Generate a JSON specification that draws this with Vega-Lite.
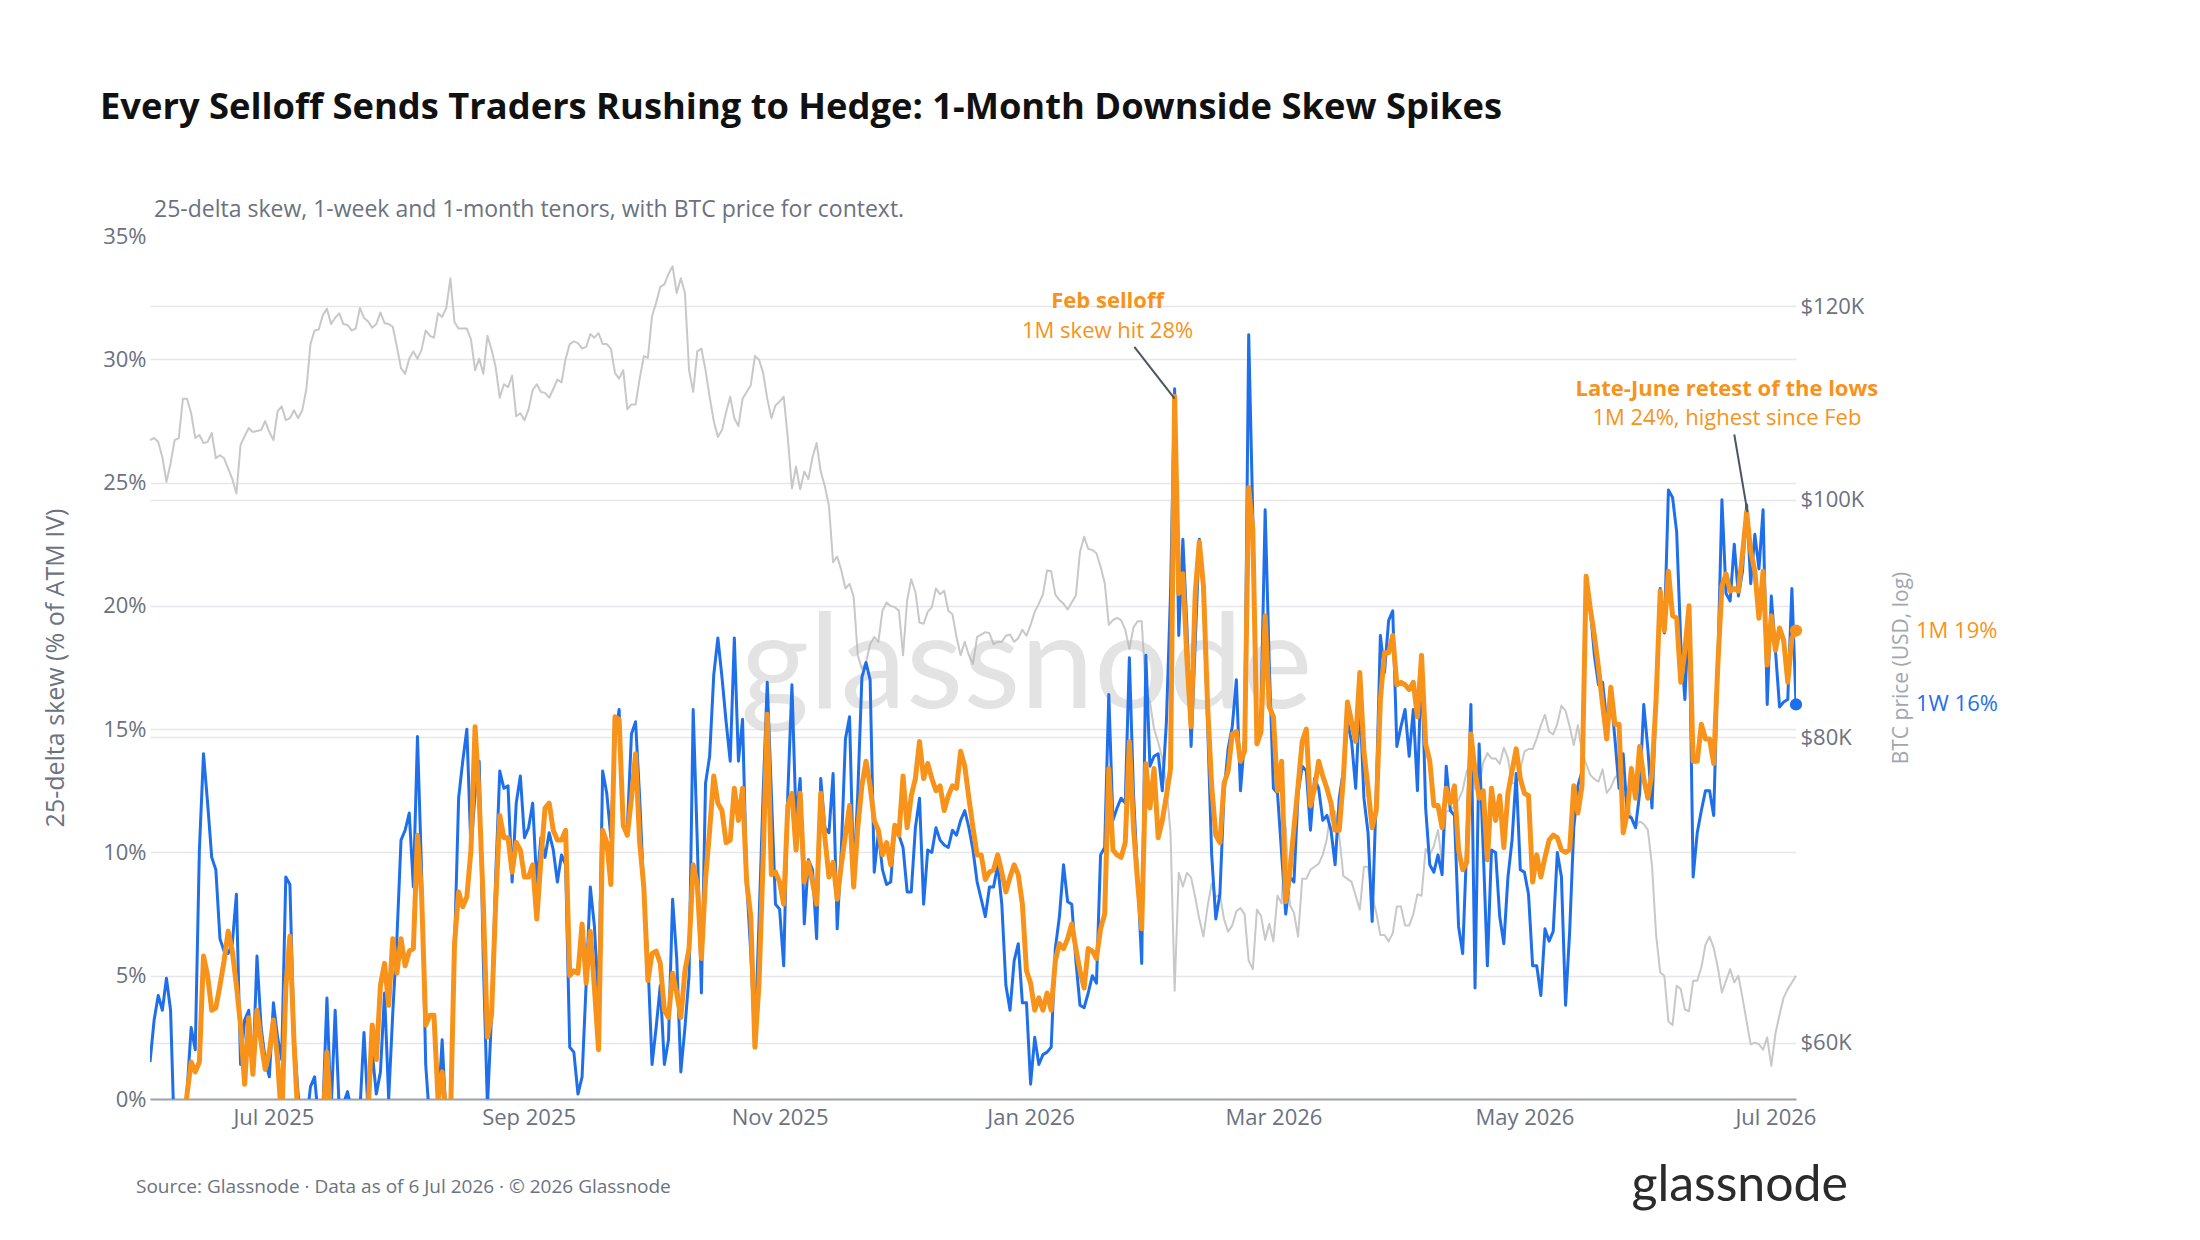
{
  "$schema": "https://vega.github.io/schema/vega-lite/v6.json",
  "width": 1646,
  "height": 863,
  "autosize": {"type": "none"},
  "padding": {"left": 150, "top": 236, "right": 404, "bottom": 141},
  "background": "white",
  "config": {
    "font": "Open Sans",
    "view": {"stroke": null},
    "axis": {"labelFont": "Open Sans", "titleFont": "Open Sans"},
    "text": {"font": "Open Sans"}
  },
  "title": {
    "text": "Every Selloff Sends Traders Rushing to Hedge: 1-Month Downside Skew Spikes",
    "anchor": "start",
    "frame": "group",
    "dx": -50,
    "offset": 73,
    "font": "Open Sans",
    "fontSize": 36.3,
    "fontWeight": "bold",
    "color": "#111111"
  },
  "datasets": {
    "w": [
      {"d":"2025-06-01","v":1.5},{"d":"2025-06-02","v":3.2},{"d":"2025-06-03","v":4.2},{"d":"2025-06-04","v":3.6},{"d":"2025-06-05","v":4.9},{"d":"2025-06-06","v":3.6},{"d":"2025-06-07","v":-2},{"d":"2025-06-08","v":-3},{"d":"2025-06-09","v":-1},{"d":"2025-06-10","v":0.3},
      {"d":"2025-06-11","v":2.9},{"d":"2025-06-12","v":2.0},{"d":"2025-06-13","v":10.1},{"d":"2025-06-14","v":14.0},{"d":"2025-06-15","v":12.0},{"d":"2025-06-16","v":9.8},{"d":"2025-06-17","v":9.3},{"d":"2025-06-18","v":6.5},{"d":"2025-06-19","v":6.0},{"d":"2025-06-20","v":5.9},
      {"d":"2025-06-21","v":6.3},{"d":"2025-06-22","v":8.3},{"d":"2025-06-23","v":1.4},{"d":"2025-06-24","v":3.2},{"d":"2025-06-25","v":3.6},{"d":"2025-06-26","v":1.1},{"d":"2025-06-27","v":5.8},{"d":"2025-06-28","v":2.9},{"d":"2025-06-29","v":1.6},{"d":"2025-06-30","v":0.9},
      {"d":"2025-07-01","v":3.9},{"d":"2025-07-02","v":2.5},{"d":"2025-07-03","v":1.6},{"d":"2025-07-04","v":9.0},{"d":"2025-07-05","v":8.7},{"d":"2025-07-06","v":2.5},{"d":"2025-07-07","v":0.2},{"d":"2025-07-08","v":-1.5},{"d":"2025-07-09","v":-1},{"d":"2025-07-10","v":0.5},
      {"d":"2025-07-11","v":0.9},{"d":"2025-07-12","v":-1},{"d":"2025-07-13","v":-0.5},{"d":"2025-07-14","v":4.1},{"d":"2025-07-15","v":-0.5},{"d":"2025-07-16","v":3.6},{"d":"2025-07-17","v":-0.5},{"d":"2025-07-18","v":-0.2},{"d":"2025-07-19","v":0.3},{"d":"2025-07-20","v":-0.5},
      {"d":"2025-07-21","v":-1},{"d":"2025-07-22","v":-0.5},{"d":"2025-07-23","v":2.7},{"d":"2025-07-24","v":-0.5},{"d":"2025-07-25","v":1.9},{"d":"2025-07-26","v":0.2},{"d":"2025-07-27","v":1.1},{"d":"2025-07-28","v":4.3},{"d":"2025-07-29","v":0},{"d":"2025-07-30","v":3.5},
      {"d":"2025-07-31","v":6.5},{"d":"2025-08-01","v":10.5},{"d":"2025-08-02","v":10.9},{"d":"2025-08-03","v":11.6},{"d":"2025-08-04","v":8.6},{"d":"2025-08-05","v":14.7},{"d":"2025-08-06","v":9.2},{"d":"2025-08-07","v":1.4},{"d":"2025-08-08","v":-1},{"d":"2025-08-09","v":-1},
      {"d":"2025-08-10","v":-0.5},{"d":"2025-08-11","v":2.4},{"d":"2025-08-12","v":-1},{"d":"2025-08-13","v":-0.5},{"d":"2025-08-14","v":6.1},{"d":"2025-08-15","v":12.2},{"d":"2025-08-16","v":13.7},{"d":"2025-08-17","v":15.0},{"d":"2025-08-18","v":10.1},{"d":"2025-08-19","v":12.4},
      {"d":"2025-08-20","v":13.7},{"d":"2025-08-21","v":5.6},{"d":"2025-08-22","v":-0.3},{"d":"2025-08-23","v":3.4},{"d":"2025-08-24","v":9.0},{"d":"2025-08-25","v":13.3},{"d":"2025-08-26","v":12.6},{"d":"2025-08-27","v":12.7},{"d":"2025-08-28","v":8.8},{"d":"2025-08-29","v":12.0},
      {"d":"2025-08-30","v":13.1},{"d":"2025-08-31","v":10.6},{"d":"2025-09-01","v":11.0},{"d":"2025-09-02","v":12.0},{"d":"2025-09-03","v":8.7},{"d":"2025-09-04","v":10.6},{"d":"2025-09-05","v":9.8},{"d":"2025-09-06","v":10.8},{"d":"2025-09-07","v":10.1},{"d":"2025-09-08","v":8.8},
      {"d":"2025-09-09","v":9.9},{"d":"2025-09-10","v":9.5},{"d":"2025-09-11","v":2.1},{"d":"2025-09-12","v":1.9},{"d":"2025-09-13","v":0.2},{"d":"2025-09-14","v":0.9},{"d":"2025-09-15","v":4.7},{"d":"2025-09-16","v":8.6},{"d":"2025-09-17","v":7.0},{"d":"2025-09-18","v":3.8},
      {"d":"2025-09-19","v":13.3},{"d":"2025-09-20","v":12.4},{"d":"2025-09-21","v":10.6},{"d":"2025-09-22","v":14.6},{"d":"2025-09-23","v":15.8},{"d":"2025-09-24","v":11.0},{"d":"2025-09-25","v":11.0},{"d":"2025-09-26","v":14.8},{"d":"2025-09-27","v":15.3},{"d":"2025-09-28","v":12.2},
      {"d":"2025-09-29","v":8.4},{"d":"2025-09-30","v":5.6},{"d":"2025-10-01","v":1.4},{"d":"2025-10-02","v":2.9},{"d":"2025-10-03","v":4.6},{"d":"2025-10-04","v":1.4},{"d":"2025-10-05","v":2.4},{"d":"2025-10-06","v":8.1},{"d":"2025-10-07","v":5.7},{"d":"2025-10-08","v":1.1},
      {"d":"2025-10-09","v":2.9},{"d":"2025-10-10","v":5.0},{"d":"2025-10-11","v":15.8},{"d":"2025-10-12","v":10.4},{"d":"2025-10-13","v":4.3},{"d":"2025-10-14","v":12.8},{"d":"2025-10-15","v":13.9},{"d":"2025-10-16","v":17.2},{"d":"2025-10-17","v":18.7},{"d":"2025-10-18","v":17.1},
      {"d":"2025-10-19","v":15.3},{"d":"2025-10-20","v":13.7},{"d":"2025-10-21","v":18.7},{"d":"2025-10-22","v":13.7},{"d":"2025-10-23","v":15.4},{"d":"2025-10-24","v":8.8},{"d":"2025-10-25","v":5.9},{"d":"2025-10-26","v":2.3},{"d":"2025-10-27","v":7.2},{"d":"2025-10-28","v":12.4},
      {"d":"2025-10-29","v":16.9},{"d":"2025-10-30","v":12.4},{"d":"2025-10-31","v":7.9},{"d":"2025-11-01","v":7.7},{"d":"2025-11-02","v":5.4},{"d":"2025-11-03","v":12.4},{"d":"2025-11-04","v":16.8},{"d":"2025-11-05","v":11.3},{"d":"2025-11-06","v":13.0},{"d":"2025-11-07","v":7.1},
      {"d":"2025-11-08","v":9.7},{"d":"2025-11-09","v":9.3},{"d":"2025-11-10","v":6.5},{"d":"2025-11-11","v":13.0},{"d":"2025-11-12","v":11.0},{"d":"2025-11-13","v":10.8},{"d":"2025-11-14","v":13.2},{"d":"2025-11-15","v":6.9},{"d":"2025-11-16","v":10.1},{"d":"2025-11-17","v":14.6},
      {"d":"2025-11-18","v":15.5},{"d":"2025-11-19","v":8.9},{"d":"2025-11-20","v":12.4},{"d":"2025-11-21","v":17.1},{"d":"2025-11-22","v":17.7},{"d":"2025-11-23","v":17.0},{"d":"2025-11-24","v":9.2},{"d":"2025-11-25","v":10.8},{"d":"2025-11-26","v":9.3},{"d":"2025-11-27","v":8.7},
      {"d":"2025-11-28","v":8.8},{"d":"2025-11-29","v":11.0},{"d":"2025-11-30","v":10.7},{"d":"2025-12-01","v":10.2},{"d":"2025-12-02","v":8.4},{"d":"2025-12-03","v":8.4},{"d":"2025-12-04","v":11.0},{"d":"2025-12-05","v":12.2},{"d":"2025-12-06","v":7.9},{"d":"2025-12-07","v":10.1},
      {"d":"2025-12-08","v":10.0},{"d":"2025-12-09","v":11.0},{"d":"2025-12-10","v":10.5},{"d":"2025-12-11","v":10.3},{"d":"2025-12-12","v":10.2},{"d":"2025-12-13","v":10.9},{"d":"2025-12-14","v":10.7},{"d":"2025-12-15","v":11.3},{"d":"2025-12-16","v":11.7},{"d":"2025-12-17","v":11.0},
      {"d":"2025-12-18","v":10.1},{"d":"2025-12-19","v":8.8},{"d":"2025-12-20","v":8.1},{"d":"2025-12-21","v":7.4},{"d":"2025-12-22","v":8.6},{"d":"2025-12-23","v":8.6},{"d":"2025-12-24","v":9.5},{"d":"2025-12-25","v":7.9},{"d":"2025-12-26","v":4.6},{"d":"2025-12-27","v":3.6},
      {"d":"2025-12-28","v":5.6},{"d":"2025-12-29","v":6.3},{"d":"2025-12-30","v":3.9},{"d":"2025-12-31","v":3.9},{"d":"2026-01-01","v":0.6},{"d":"2026-01-02","v":2.5},{"d":"2026-01-03","v":1.4},{"d":"2026-01-04","v":1.8},{"d":"2026-01-05","v":1.9},{"d":"2026-01-06","v":2.1},
      {"d":"2026-01-07","v":6.1},{"d":"2026-01-08","v":7.4},{"d":"2026-01-09","v":9.5},{"d":"2026-01-10","v":8.0},{"d":"2026-01-11","v":7.9},{"d":"2026-01-12","v":5.6},{"d":"2026-01-13","v":3.8},{"d":"2026-01-14","v":3.7},{"d":"2026-01-15","v":4.3},{"d":"2026-01-16","v":5.0},
      {"d":"2026-01-17","v":4.7},{"d":"2026-01-18","v":9.9},{"d":"2026-01-19","v":10.2},{"d":"2026-01-20","v":16.4},{"d":"2026-01-21","v":11.3},{"d":"2026-01-22","v":11.8},{"d":"2026-01-23","v":12.2},{"d":"2026-01-24","v":12.0},{"d":"2026-01-25","v":17.9},{"d":"2026-01-26","v":12.4},
      {"d":"2026-01-27","v":9.0},{"d":"2026-01-28","v":5.5},{"d":"2026-01-29","v":18.0},{"d":"2026-01-30","v":13.5},{"d":"2026-01-31","v":13.9},{"d":"2026-02-01","v":14.0},{"d":"2026-02-02","v":12.5},{"d":"2026-02-03","v":15.3},{"d":"2026-02-04","v":20.5},{"d":"2026-02-05","v":28.8},
      {"d":"2026-02-06","v":18.8},{"d":"2026-02-07","v":22.7},{"d":"2026-02-08","v":19.1},{"d":"2026-02-09","v":14.3},{"d":"2026-02-10","v":18.5},{"d":"2026-02-11","v":22.7},{"d":"2026-02-12","v":20.5},{"d":"2026-02-13","v":15.3},{"d":"2026-02-14","v":9.9},{"d":"2026-02-15","v":7.3},
      {"d":"2026-02-16","v":8.3},{"d":"2026-02-17","v":12.4},{"d":"2026-02-18","v":14.2},{"d":"2026-02-19","v":15.1},{"d":"2026-02-20","v":17.0},{"d":"2026-02-21","v":12.5},{"d":"2026-02-22","v":14.6},{"d":"2026-02-23","v":31.0},{"d":"2026-02-24","v":23.6},{"d":"2026-02-25","v":14.6},
      {"d":"2026-02-26","v":15.8},{"d":"2026-02-27","v":23.9},{"d":"2026-02-28","v":17.6},{"d":"2026-03-01","v":12.6},{"d":"2026-03-02","v":12.4},{"d":"2026-03-04","v":7.5},{"d":"2026-03-05","v":9.0},{"d":"2026-03-06","v":8.8},{"d":"2026-03-07","v":12.4},{"d":"2026-03-08","v":13.5},
      {"d":"2026-03-09","v":13.3},{"d":"2026-03-10","v":10.9},{"d":"2026-03-11","v":13.0},{"d":"2026-03-12","v":12.6},{"d":"2026-03-13","v":11.3},{"d":"2026-03-14","v":11.5},{"d":"2026-03-15","v":10.9},{"d":"2026-03-16","v":9.5},{"d":"2026-03-17","v":12.2},{"d":"2026-03-18","v":13.3},
      {"d":"2026-03-19","v":15.3},{"d":"2026-03-20","v":14.5},{"d":"2026-03-21","v":12.6},{"d":"2026-03-22","v":16.2},{"d":"2026-03-23","v":12.2},{"d":"2026-03-24","v":10.8},{"d":"2026-03-25","v":7.2},{"d":"2026-03-26","v":12.4},{"d":"2026-03-27","v":18.8},{"d":"2026-03-28","v":17.3},
      {"d":"2026-03-29","v":19.4},{"d":"2026-03-30","v":19.8},{"d":"2026-03-31","v":14.3},{"d":"2026-04-01","v":15.1},{"d":"2026-04-02","v":15.8},{"d":"2026-04-03","v":13.9},{"d":"2026-04-04","v":15.8},{"d":"2026-04-05","v":12.5},{"d":"2026-04-06","v":17.8},{"d":"2026-04-07","v":11.8},
      {"d":"2026-04-08","v":9.5},{"d":"2026-04-09","v":9.2},{"d":"2026-04-10","v":9.9},{"d":"2026-04-11","v":9.1},{"d":"2026-04-12","v":13.5},{"d":"2026-04-13","v":11.7},{"d":"2026-04-14","v":11.5},{"d":"2026-04-15","v":7.0},{"d":"2026-04-16","v":5.9},{"d":"2026-04-17","v":10.4},
      {"d":"2026-04-18","v":16.0},{"d":"2026-04-19","v":4.5},{"d":"2026-04-20","v":14.4},{"d":"2026-04-21","v":10.1},{"d":"2026-04-22","v":5.4},{"d":"2026-04-23","v":10.1},{"d":"2026-04-24","v":10.0},{"d":"2026-04-25","v":7.4},{"d":"2026-04-26","v":6.3},{"d":"2026-04-27","v":9.0},
      {"d":"2026-04-28","v":10.5},{"d":"2026-04-29","v":13.2},{"d":"2026-04-30","v":9.3},{"d":"2026-05-01","v":9.2},{"d":"2026-05-02","v":8.3},{"d":"2026-05-03","v":5.4},{"d":"2026-05-04","v":5.4},{"d":"2026-05-05","v":4.2},{"d":"2026-05-06","v":6.9},{"d":"2026-05-07","v":6.4},
      {"d":"2026-05-08","v":6.8},{"d":"2026-05-09","v":10.0},{"d":"2026-05-10","v":9.0},{"d":"2026-05-11","v":3.8},{"d":"2026-05-12","v":6.8},{"d":"2026-05-13","v":11.0},{"d":"2026-05-14","v":12.7},{"d":"2026-05-15","v":13.3},{"d":"2026-05-16","v":20.9},{"d":"2026-05-17","v":19.9},
      {"d":"2026-05-18","v":18.0},{"d":"2026-05-19","v":16.8},{"d":"2026-05-20","v":16.9},{"d":"2026-05-21","v":15.3},{"d":"2026-05-22","v":16.4},{"d":"2026-05-23","v":14.6},{"d":"2026-05-24","v":12.6},{"d":"2026-05-25","v":14.0},{"d":"2026-05-26","v":11.5},{"d":"2026-05-27","v":11.4},
      {"d":"2026-05-28","v":11.0},{"d":"2026-05-29","v":12.4},{"d":"2026-05-30","v":16.0},{"d":"2026-05-31","v":14.2},{"d":"2026-06-01","v":11.8},{"d":"2026-06-02","v":16.2},{"d":"2026-06-03","v":20.7},{"d":"2026-06-04","v":18.9},{"d":"2026-06-05","v":24.7},{"d":"2026-06-06","v":24.4},
      {"d":"2026-06-07","v":23.0},{"d":"2026-06-08","v":18.5},{"d":"2026-06-09","v":16.2},{"d":"2026-06-10","v":20.0},{"d":"2026-06-11","v":9.0},{"d":"2026-06-12","v":10.8},{"d":"2026-06-13","v":11.7},{"d":"2026-06-14","v":12.5},{"d":"2026-06-15","v":12.5},{"d":"2026-06-16","v":11.5},
      {"d":"2026-06-17","v":17.6},{"d":"2026-06-18","v":24.3},{"d":"2026-06-19","v":20.5},{"d":"2026-06-20","v":20.2},{"d":"2026-06-21","v":22.5},{"d":"2026-06-22","v":20.4},{"d":"2026-06-23","v":21.4},{"d":"2026-06-24","v":24.1},{"d":"2026-06-25","v":20.9},{"d":"2026-06-26","v":22.9},
      {"d":"2026-06-27","v":21.5},{"d":"2026-06-28","v":23.9},{"d":"2026-06-29","v":16.0},{"d":"2026-06-30","v":20.4},{"d":"2026-07-01","v":18.2},{"d":"2026-07-02","v":15.9},{"d":"2026-07-03","v":16.1},{"d":"2026-07-04","v":16.2},{"d":"2026-07-05","v":20.7},{"d":"2026-07-06","v":16.0}
    ],
    "m": [
      {"d":"2025-06-01","v":-3},{"d":"2025-06-09","v":-2},{"d":"2025-06-10","v":0.2},{"d":"2025-06-11","v":1.5},{"d":"2025-06-12","v":1.1},{"d":"2025-06-13","v":1.5},{"d":"2025-06-14","v":5.8},{"d":"2025-06-15","v":5.0},{"d":"2025-06-16","v":3.6},{"d":"2025-06-17","v":3.7},
      {"d":"2025-06-18","v":4.6},{"d":"2025-06-19","v":5.6},{"d":"2025-06-20","v":6.8},{"d":"2025-06-21","v":6.0},{"d":"2025-06-22","v":4.6},{"d":"2025-06-23","v":3.0},{"d":"2025-06-24","v":0.6},{"d":"2025-06-25","v":3.3},{"d":"2025-06-26","v":1.0},{"d":"2025-06-27","v":3.6},
      {"d":"2025-06-28","v":2.3},{"d":"2025-06-29","v":1.2},{"d":"2025-06-30","v":1.9},{"d":"2025-07-01","v":3.2},{"d":"2025-07-02","v":1.6},{"d":"2025-07-03","v":-1},{"d":"2025-07-04","v":4.5},{"d":"2025-07-05","v":6.6},{"d":"2025-07-06","v":2.3},{"d":"2025-07-07","v":-1},
      {"d":"2025-07-08","v":-2.5},{"d":"2025-07-12","v":-3},{"d":"2025-07-13","v":-1},{"d":"2025-07-14","v":1.9},{"d":"2025-07-15","v":-1},{"d":"2025-07-16","v":-3},{"d":"2025-07-23","v":-3},{"d":"2025-07-24","v":-0.5},{"d":"2025-07-25","v":3.0},{"d":"2025-07-26","v":1.6},
      {"d":"2025-07-27","v":4.6},{"d":"2025-07-28","v":5.5},{"d":"2025-07-29","v":3.8},{"d":"2025-07-30","v":6.5},{"d":"2025-07-31","v":5.1},{"d":"2025-08-01","v":6.5},{"d":"2025-08-02","v":5.4},{"d":"2025-08-03","v":6.0},{"d":"2025-08-04","v":6.1},{"d":"2025-08-05","v":10.7},
      {"d":"2025-08-06","v":8.3},{"d":"2025-08-07","v":3.0},{"d":"2025-08-08","v":3.4},{"d":"2025-08-09","v":3.4},{"d":"2025-08-10","v":0},{"d":"2025-08-11","v":1.1},{"d":"2025-08-12","v":-1},{"d":"2025-08-13","v":-1},{"d":"2025-08-14","v":6.3},{"d":"2025-08-15","v":8.4},
      {"d":"2025-08-16","v":7.8},{"d":"2025-08-17","v":8.2},{"d":"2025-08-18","v":10.1},{"d":"2025-08-19","v":15.1},{"d":"2025-08-20","v":12.2},{"d":"2025-08-21","v":7.9},{"d":"2025-08-22","v":2.5},{"d":"2025-08-23","v":3.4},{"d":"2025-08-24","v":7.9},{"d":"2025-08-25","v":11.5},
      {"d":"2025-08-26","v":10.6},{"d":"2025-08-27","v":10.6},{"d":"2025-08-28","v":9.2},{"d":"2025-08-29","v":10.4},{"d":"2025-08-30","v":10.1},{"d":"2025-08-31","v":9.0},{"d":"2025-09-01","v":9.0},{"d":"2025-09-02","v":9.5},{"d":"2025-09-03","v":7.3},{"d":"2025-09-04","v":9.7},
      {"d":"2025-09-05","v":11.8},{"d":"2025-09-06","v":12.0},{"d":"2025-09-07","v":10.9},{"d":"2025-09-08","v":10.5},{"d":"2025-09-09","v":10.5},{"d":"2025-09-10","v":10.9},{"d":"2025-09-11","v":5.0},{"d":"2025-09-12","v":5.2},{"d":"2025-09-13","v":5.1},{"d":"2025-09-14","v":7.1},
      {"d":"2025-09-15","v":4.7},{"d":"2025-09-16","v":6.8},{"d":"2025-09-17","v":4.5},{"d":"2025-09-18","v":2.0},{"d":"2025-09-19","v":10.9},{"d":"2025-09-20","v":10.4},{"d":"2025-09-21","v":8.7},{"d":"2025-09-22","v":15.5},{"d":"2025-09-23","v":15.4},{"d":"2025-09-24","v":11.1},
      {"d":"2025-09-25","v":10.7},{"d":"2025-09-26","v":12.2},{"d":"2025-09-27","v":14.0},{"d":"2025-09-28","v":10.4},{"d":"2025-09-29","v":8.6},{"d":"2025-09-30","v":4.8},{"d":"2025-10-01","v":5.9},{"d":"2025-10-02","v":6.0},{"d":"2025-10-03","v":5.5},{"d":"2025-10-04","v":3.6},
      {"d":"2025-10-05","v":3.3},{"d":"2025-10-06","v":5.1},{"d":"2025-10-07","v":4.3},{"d":"2025-10-08","v":3.3},{"d":"2025-10-09","v":5.2},{"d":"2025-10-10","v":6.1},{"d":"2025-10-11","v":9.5},{"d":"2025-10-12","v":8.7},{"d":"2025-10-13","v":5.7},{"d":"2025-10-14","v":8.9},
      {"d":"2025-10-15","v":10.9},{"d":"2025-10-16","v":13.1},{"d":"2025-10-17","v":12.0},{"d":"2025-10-18","v":11.7},{"d":"2025-10-19","v":10.4},{"d":"2025-10-20","v":10.5},{"d":"2025-10-21","v":12.6},{"d":"2025-10-22","v":11.3},{"d":"2025-10-23","v":12.6},{"d":"2025-10-24","v":8.8},
      {"d":"2025-10-25","v":7.4},{"d":"2025-10-26","v":2.1},{"d":"2025-10-27","v":4.7},{"d":"2025-10-28","v":9.7},{"d":"2025-10-29","v":15.6},{"d":"2025-10-30","v":9.1},{"d":"2025-10-31","v":9.2},{"d":"2025-11-01","v":8.8},{"d":"2025-11-02","v":7.9},{"d":"2025-11-03","v":11.9},
      {"d":"2025-11-04","v":12.4},{"d":"2025-11-05","v":10.1},{"d":"2025-11-06","v":12.4},{"d":"2025-11-07","v":8.8},{"d":"2025-11-08","v":9.6},{"d":"2025-11-09","v":8.8},{"d":"2025-11-10","v":7.9},{"d":"2025-11-11","v":12.4},{"d":"2025-11-12","v":10.6},{"d":"2025-11-13","v":9.0},
      {"d":"2025-11-14","v":9.6},{"d":"2025-11-15","v":8.1},{"d":"2025-11-16","v":9.5},{"d":"2025-11-17","v":10.7},{"d":"2025-11-18","v":11.9},{"d":"2025-11-19","v":8.6},{"d":"2025-11-20","v":11.0},{"d":"2025-11-21","v":12.7},{"d":"2025-11-22","v":13.7},{"d":"2025-11-23","v":12.7},
      {"d":"2025-11-24","v":11.3},{"d":"2025-11-25","v":10.9},{"d":"2025-11-26","v":9.9},{"d":"2025-11-27","v":10.4},{"d":"2025-11-28","v":9.5},{"d":"2025-11-29","v":11.1},{"d":"2025-11-30","v":10.7},{"d":"2025-12-01","v":13.1},{"d":"2025-12-02","v":11.0},{"d":"2025-12-03","v":12.3},
      {"d":"2025-12-04","v":13.0},{"d":"2025-12-05","v":14.5},{"d":"2025-12-06","v":13.0},{"d":"2025-12-07","v":13.6},{"d":"2025-12-08","v":13.0},{"d":"2025-12-09","v":12.5},{"d":"2025-12-10","v":12.7},{"d":"2025-12-11","v":11.7},{"d":"2025-12-12","v":12.3},{"d":"2025-12-13","v":12.7},
      {"d":"2025-12-14","v":12.6},{"d":"2025-12-15","v":14.1},{"d":"2025-12-16","v":13.5},{"d":"2025-12-17","v":12.2},{"d":"2025-12-18","v":11.0},{"d":"2025-12-19","v":9.9},{"d":"2025-12-20","v":9.9},{"d":"2025-12-21","v":8.9},{"d":"2025-12-22","v":9.2},{"d":"2025-12-23","v":9.3},
      {"d":"2025-12-24","v":9.9},{"d":"2025-12-25","v":9.2},{"d":"2025-12-26","v":8.4},{"d":"2025-12-27","v":9.0},{"d":"2025-12-28","v":9.5},{"d":"2025-12-29","v":9.1},{"d":"2025-12-30","v":7.9},{"d":"2025-12-31","v":5.2},{"d":"2026-01-01","v":4.7},{"d":"2026-01-02","v":3.6},
      {"d":"2026-01-03","v":4.1},{"d":"2026-01-04","v":3.6},{"d":"2026-01-05","v":4.3},{"d":"2026-01-06","v":3.6},{"d":"2026-01-07","v":5.6},{"d":"2026-01-08","v":6.3},{"d":"2026-01-09","v":6.1},{"d":"2026-01-10","v":6.5},{"d":"2026-01-11","v":7.1},{"d":"2026-01-12","v":6.1},
      {"d":"2026-01-13","v":5.2},{"d":"2026-01-14","v":4.5},{"d":"2026-01-15","v":6.1},{"d":"2026-01-16","v":6.0},{"d":"2026-01-17","v":5.7},{"d":"2026-01-18","v":6.9},{"d":"2026-01-19","v":7.5},{"d":"2026-01-20","v":13.4},{"d":"2026-01-21","v":10.1},{"d":"2026-01-22","v":9.9},
      {"d":"2026-01-23","v":9.8},{"d":"2026-01-24","v":10.4},{"d":"2026-01-25","v":14.5},{"d":"2026-01-26","v":11.0},{"d":"2026-01-27","v":8.8},{"d":"2026-01-28","v":6.9},{"d":"2026-01-29","v":13.6},{"d":"2026-01-30","v":11.8},{"d":"2026-01-31","v":13.4},{"d":"2026-02-01","v":10.6},
      {"d":"2026-02-02","v":11.3},{"d":"2026-02-03","v":12.3},{"d":"2026-02-04","v":13.4},{"d":"2026-02-05","v":28.5},{"d":"2026-02-06","v":20.5},{"d":"2026-02-07","v":21.3},{"d":"2026-02-08","v":17.8},{"d":"2026-02-09","v":15.1},{"d":"2026-02-10","v":20.5},{"d":"2026-02-11","v":22.6},
      {"d":"2026-02-12","v":20.8},{"d":"2026-02-13","v":16.0},{"d":"2026-02-14","v":12.7},{"d":"2026-02-15","v":10.7},{"d":"2026-02-16","v":10.4},{"d":"2026-02-17","v":12.8},{"d":"2026-02-18","v":13.3},{"d":"2026-02-19","v":14.8},{"d":"2026-02-20","v":14.9},{"d":"2026-02-21","v":13.7},
      {"d":"2026-02-22","v":14.1},{"d":"2026-02-23","v":24.8},{"d":"2026-02-24","v":23.1},{"d":"2026-02-25","v":14.4},{"d":"2026-02-26","v":14.9},{"d":"2026-02-27","v":19.6},{"d":"2026-02-28","v":15.9},{"d":"2026-03-01","v":15.5},{"d":"2026-03-02","v":12.5},{"d":"2026-03-03","v":13.7},
      {"d":"2026-03-04","v":8.0},{"d":"2026-03-05","v":9.2},{"d":"2026-03-06","v":11.0},{"d":"2026-03-07","v":12.7},{"d":"2026-03-08","v":14.5},{"d":"2026-03-09","v":15.0},{"d":"2026-03-10","v":11.9},{"d":"2026-03-11","v":12.6},{"d":"2026-03-12","v":13.7},{"d":"2026-03-13","v":13.1},
      {"d":"2026-03-14","v":12.6},{"d":"2026-03-15","v":12.0},{"d":"2026-03-16","v":10.9},{"d":"2026-03-17","v":10.9},{"d":"2026-03-18","v":13.0},{"d":"2026-03-19","v":16.1},{"d":"2026-03-20","v":15.3},{"d":"2026-03-21","v":14.5},{"d":"2026-03-22","v":17.3},{"d":"2026-03-23","v":14.1},
      {"d":"2026-03-24","v":12.6},{"d":"2026-03-25","v":11.0},{"d":"2026-03-26","v":11.7},{"d":"2026-03-27","v":16.2},{"d":"2026-03-28","v":18.1},{"d":"2026-03-29","v":18.1},{"d":"2026-03-30","v":18.8},{"d":"2026-03-31","v":16.8},{"d":"2026-04-01","v":16.9},{"d":"2026-04-02","v":16.8},
      {"d":"2026-04-03","v":16.6},{"d":"2026-04-04","v":16.9},{"d":"2026-04-05","v":15.5},{"d":"2026-04-06","v":18.0},{"d":"2026-04-07","v":14.4},{"d":"2026-04-08","v":13.7},{"d":"2026-04-09","v":11.9},{"d":"2026-04-10","v":11.9},{"d":"2026-04-11","v":11.0},{"d":"2026-04-12","v":12.6},
      {"d":"2026-04-13","v":12.0},{"d":"2026-04-14","v":12.7},{"d":"2026-04-15","v":10.1},{"d":"2026-04-16","v":9.3},{"d":"2026-04-17","v":9.6},{"d":"2026-04-18","v":14.8},{"d":"2026-04-19","v":13.3},{"d":"2026-04-20","v":12.2},{"d":"2026-04-21","v":12.5},{"d":"2026-04-22","v":9.7},
      {"d":"2026-04-23","v":12.6},{"d":"2026-04-24","v":11.3},{"d":"2026-04-25","v":12.3},{"d":"2026-04-26","v":10.2},{"d":"2026-04-27","v":12.4},{"d":"2026-04-28","v":13.3},{"d":"2026-04-29","v":14.2},{"d":"2026-04-30","v":13.0},{"d":"2026-05-01","v":12.4},{"d":"2026-05-02","v":12.3},
      {"d":"2026-05-03","v":8.8},{"d":"2026-05-04","v":9.9},{"d":"2026-05-05","v":9.0},{"d":"2026-05-06","v":9.8},{"d":"2026-05-07","v":10.5},{"d":"2026-05-08","v":10.7},{"d":"2026-05-09","v":10.6},{"d":"2026-05-10","v":10.1},{"d":"2026-05-11","v":10.0},{"d":"2026-05-12","v":10.1},
      {"d":"2026-05-13","v":12.7},{"d":"2026-05-14","v":11.6},{"d":"2026-05-15","v":12.7},{"d":"2026-05-16","v":21.2},{"d":"2026-05-17","v":19.9},{"d":"2026-05-18","v":18.8},{"d":"2026-05-19","v":17.5},{"d":"2026-05-20","v":16.0},{"d":"2026-05-21","v":14.6},{"d":"2026-05-22","v":16.7},
      {"d":"2026-05-23","v":15.2},{"d":"2026-05-24","v":15.2},{"d":"2026-05-25","v":10.8},{"d":"2026-05-26","v":11.6},{"d":"2026-05-27","v":13.4},{"d":"2026-05-28","v":12.2},{"d":"2026-05-29","v":14.3},{"d":"2026-05-30","v":13.0},{"d":"2026-05-31","v":12.2},{"d":"2026-06-01","v":13.2},
      {"d":"2026-06-02","v":16.2},{"d":"2026-06-03","v":20.6},{"d":"2026-06-04","v":19.0},{"d":"2026-06-05","v":21.4},{"d":"2026-06-06","v":19.6},{"d":"2026-06-07","v":19.5},{"d":"2026-06-08","v":16.9},{"d":"2026-06-09","v":18.2},{"d":"2026-06-10","v":20.0},{"d":"2026-06-11","v":13.7},
      {"d":"2026-06-12","v":13.7},{"d":"2026-06-13","v":15.2},{"d":"2026-06-14","v":14.6},{"d":"2026-06-15","v":14.6},{"d":"2026-06-16","v":13.6},{"d":"2026-06-17","v":17.6},{"d":"2026-06-18","v":20.8},{"d":"2026-06-19","v":21.3},{"d":"2026-06-20","v":20.6},{"d":"2026-06-21","v":20.7},
      {"d":"2026-06-22","v":20.6},{"d":"2026-06-23","v":22.1},{"d":"2026-06-24","v":23.8},{"d":"2026-06-25","v":22.2},{"d":"2026-06-26","v":21.4},{"d":"2026-06-27","v":19.5},{"d":"2026-06-28","v":21.4},{"d":"2026-06-29","v":17.6},{"d":"2026-06-30","v":19.6},{"d":"2026-07-01","v":18.2},
      {"d":"2026-07-02","v":19.1},{"d":"2026-07-03","v":18.6},{"d":"2026-07-04","v":16.9},{"d":"2026-07-05","v":18.7},{"d":"2026-07-06","v":19.0}
    ],
    "p": [
      {"d":"2025-06-01","v":105.8},{"d":"2025-06-02","v":106},{"d":"2025-06-03","v":105.6},{"d":"2025-06-04","v":104.1},{"d":"2025-06-05","v":101.7},{"d":"2025-06-06","v":103.5},{"d":"2025-06-07","v":105.8},{"d":"2025-06-08","v":106},{"d":"2025-06-09","v":110},{"d":"2025-06-10","v":110},
      {"d":"2025-06-11","v":108.5},{"d":"2025-06-12","v":106},{"d":"2025-06-13","v":106.3},{"d":"2025-06-14","v":105.5},{"d":"2025-06-15","v":105.6},{"d":"2025-06-16","v":106.5},{"d":"2025-06-17","v":104},{"d":"2025-06-18","v":104.3},{"d":"2025-06-19","v":104},{"d":"2025-06-20","v":103},
      {"d":"2025-06-21","v":102},{"d":"2025-06-22","v":100.6},{"d":"2025-06-23","v":105.3},{"d":"2025-06-24","v":106.2},{"d":"2025-06-25","v":107},{"d":"2025-06-26","v":106.6},{"d":"2025-06-27","v":106.7},{"d":"2025-06-28","v":106.8},{"d":"2025-06-29","v":107.7},{"d":"2025-06-30","v":106.6},
      {"d":"2025-07-01","v":105.8},{"d":"2025-07-02","v":108.7},{"d":"2025-07-03","v":109.2},{"d":"2025-07-04","v":107.8},{"d":"2025-07-05","v":108},{"d":"2025-07-06","v":108.8},{"d":"2025-07-07","v":108},{"d":"2025-07-08","v":108.8},{"d":"2025-07-09","v":111},{"d":"2025-07-10","v":115.8},
      {"d":"2025-07-11","v":117.3},{"d":"2025-07-12","v":117.4},{"d":"2025-07-13","v":119},{"d":"2025-07-14","v":119.7},{"d":"2025-07-15","v":118},{"d":"2025-07-16","v":118.7},{"d":"2025-07-17","v":119.2},{"d":"2025-07-18","v":118},{"d":"2025-07-19","v":117.9},{"d":"2025-07-20","v":117.3},
      {"d":"2025-07-21","v":117.5},{"d":"2025-07-22","v":119.8},{"d":"2025-07-23","v":118.7},{"d":"2025-07-24","v":118.3},{"d":"2025-07-25","v":117.6},{"d":"2025-07-26","v":118},{"d":"2025-07-27","v":119.3},{"d":"2025-07-28","v":118.1},{"d":"2025-07-29","v":118},{"d":"2025-07-30","v":117.7},
      {"d":"2025-07-31","v":115.5},{"d":"2025-08-01","v":113.2},{"d":"2025-08-02","v":112.6},{"d":"2025-08-03","v":114.2},{"d":"2025-08-04","v":115},{"d":"2025-08-05","v":114.2},{"d":"2025-08-06","v":115.2},{"d":"2025-08-07","v":117.3},{"d":"2025-08-08","v":116.7},{"d":"2025-08-09","v":116.5},
      {"d":"2025-08-10","v":119.2},{"d":"2025-08-11","v":118.8},{"d":"2025-08-12","v":119.8},{"d":"2025-08-13","v":123.2},{"d":"2025-08-14","v":118.2},{"d":"2025-08-15","v":117.5},{"d":"2025-08-16","v":117.5},{"d":"2025-08-17","v":117.5},{"d":"2025-08-18","v":116.3},{"d":"2025-08-19","v":113},
      {"d":"2025-08-20","v":114.2},{"d":"2025-08-21","v":112.6},{"d":"2025-08-22","v":116.7},{"d":"2025-08-23","v":115.2},{"d":"2025-08-24","v":113.3},{"d":"2025-08-25","v":110.1},{"d":"2025-08-26","v":111.5},{"d":"2025-08-27","v":111.2},{"d":"2025-08-28","v":112.4},{"d":"2025-08-29","v":108.2},
      {"d":"2025-08-30","v":108.5},{"d":"2025-08-31","v":107.8},{"d":"2025-09-01","v":108.9},{"d":"2025-09-02","v":110.9},{"d":"2025-09-03","v":111.5},{"d":"2025-09-04","v":110.7},{"d":"2025-09-05","v":110.6},{"d":"2025-09-06","v":110.1},{"d":"2025-09-07","v":111},{"d":"2025-09-08","v":112},
      {"d":"2025-09-09","v":111.7},{"d":"2025-09-10","v":114.2},{"d":"2025-09-11","v":115.8},{"d":"2025-09-12","v":116.1},{"d":"2025-09-13","v":115.9},{"d":"2025-09-14","v":115.3},{"d":"2025-09-15","v":115.5},{"d":"2025-09-16","v":116.9},{"d":"2025-09-17","v":116.5},{"d":"2025-09-18","v":117},
      {"d":"2025-09-19","v":115.8},{"d":"2025-09-20","v":115.8},{"d":"2025-09-21","v":115.3},{"d":"2025-09-22","v":112.7},{"d":"2025-09-23","v":112.1},{"d":"2025-09-24","v":113},{"d":"2025-09-25","v":108.9},{"d":"2025-09-26","v":109.4},{"d":"2025-09-27","v":109.4},{"d":"2025-09-28","v":112.1},
      {"d":"2025-09-29","v":114.5},{"d":"2025-09-30","v":114.3},{"d":"2025-10-01","v":118.9},{"d":"2025-10-02","v":120.4},{"d":"2025-10-03","v":122.2},{"d":"2025-10-04","v":122.5},{"d":"2025-10-05","v":123.7},{"d":"2025-10-06","v":124.6},{"d":"2025-10-07","v":121.5},{"d":"2025-10-08","v":123.2},
      {"d":"2025-10-09","v":121.5},{"d":"2025-10-10","v":113},{"d":"2025-10-11","v":110.7},{"d":"2025-10-12","v":115},{"d":"2025-10-13","v":115.3},{"d":"2025-10-14","v":113},{"d":"2025-10-15","v":110.2},{"d":"2025-10-16","v":107.7},{"d":"2025-10-17","v":106.1},{"d":"2025-10-18","v":106.8},
      {"d":"2025-10-19","v":108.6},{"d":"2025-10-20","v":110.2},{"d":"2025-10-21","v":108},{"d":"2025-10-22","v":107.2},{"d":"2025-10-23","v":110},{"d":"2025-10-24","v":110.7},{"d":"2025-10-25","v":111.4},{"d":"2025-10-26","v":114.5},{"d":"2025-10-27","v":114.1},{"d":"2025-10-28","v":112.7},
      {"d":"2025-10-29","v":110},{"d":"2025-10-30","v":108},{"d":"2025-10-31","v":109.3},{"d":"2025-11-01","v":109.7},{"d":"2025-11-02","v":110.2},{"d":"2025-11-03","v":106},{"d":"2025-11-04","v":101.1},{"d":"2025-11-05","v":103.2},{"d":"2025-11-06","v":101},{"d":"2025-11-07","v":102.7},
      {"d":"2025-11-08","v":102},{"d":"2025-11-09","v":104.1},{"d":"2025-11-10","v":105.5},{"d":"2025-11-11","v":102.7},{"d":"2025-11-12","v":101.3},{"d":"2025-11-13","v":99.4},{"d":"2025-11-14","v":94.3},{"d":"2025-11-15","v":94.8},{"d":"2025-11-16","v":93.6},{"d":"2025-11-17","v":92},
      {"d":"2025-11-18","v":92.4},{"d":"2025-11-19","v":91.3},{"d":"2025-11-20","v":86.4},{"d":"2025-11-21","v":85.3},{"d":"2025-11-22","v":85.8},{"d":"2025-11-23","v":87.3},{"d":"2025-11-24","v":87.9},{"d":"2025-11-25","v":87.5},{"d":"2025-11-26","v":90.1},{"d":"2025-11-27","v":90.8},
      {"d":"2025-11-28","v":90.5},{"d":"2025-11-29","v":90.4},{"d":"2025-11-30","v":90.1},{"d":"2025-12-01","v":86.4},{"d":"2025-12-02","v":91},{"d":"2025-12-03","v":92.8},{"d":"2025-12-04","v":91.7},{"d":"2025-12-05","v":89.1},{"d":"2025-12-06","v":89},{"d":"2025-12-07","v":90},
      {"d":"2025-12-08","v":90.4},{"d":"2025-12-09","v":92},{"d":"2025-12-10","v":91.5},{"d":"2025-12-11","v":91.8},{"d":"2025-12-12","v":90.1},{"d":"2025-12-13","v":89.8},{"d":"2025-12-14","v":87.9},{"d":"2025-12-15","v":86.4},{"d":"2025-12-16","v":87.5},{"d":"2025-12-17","v":86.4},
      {"d":"2025-12-18","v":85.7},{"d":"2025-12-19","v":87.9},{"d":"2025-12-20","v":88.1},{"d":"2025-12-21","v":88.3},{"d":"2025-12-22","v":88.2},{"d":"2025-12-23","v":87.3},{"d":"2025-12-24","v":87.5},{"d":"2025-12-25","v":87.5},{"d":"2025-12-26","v":88},{"d":"2025-12-27","v":88.1},
      {"d":"2025-12-28","v":87.5},{"d":"2025-12-29","v":87.8},{"d":"2025-12-30","v":88.5},{"d":"2025-12-31","v":88},{"d":"2026-01-01","v":88.9},{"d":"2026-01-02","v":90},{"d":"2026-01-03","v":90.7},{"d":"2026-01-04","v":91.5},{"d":"2026-01-05","v":93.6},{"d":"2026-01-06","v":93.5},
      {"d":"2026-01-07","v":91.5},{"d":"2026-01-08","v":91},{"d":"2026-01-09","v":90.7},{"d":"2026-01-10","v":90.2},{"d":"2026-01-11","v":90.8},{"d":"2026-01-12","v":91.4},{"d":"2026-01-13","v":95.2},{"d":"2026-01-14","v":96.6},{"d":"2026-01-15","v":95.5},{"d":"2026-01-16","v":95.4},
      {"d":"2026-01-17","v":95.1},{"d":"2026-01-18","v":93.9},{"d":"2026-01-19","v":92.5},{"d":"2026-01-20","v":88.9},{"d":"2026-01-21","v":89.3},{"d":"2026-01-22","v":89.5},{"d":"2026-01-23","v":89.3},{"d":"2026-01-24","v":88.5},{"d":"2026-01-25","v":86.9},{"d":"2026-01-26","v":88.7},
      {"d":"2026-01-27","v":89.2},{"d":"2026-01-28","v":89.2},{"d":"2026-01-29","v":83.6},{"d":"2026-01-30","v":82.7},{"d":"2026-01-31","v":80.6},{"d":"2026-02-01","v":79.6},{"d":"2026-02-02","v":78.4},{"d":"2026-02-03","v":76.4},{"d":"2026-02-04","v":73.1},{"d":"2026-02-05","v":63},
      {"d":"2026-02-06","v":70.4},{"d":"2026-02-07","v":69.5},{"d":"2026-02-08","v":70.4},{"d":"2026-02-09","v":70.1},{"d":"2026-02-10","v":68.8},{"d":"2026-02-11","v":67.4},{"d":"2026-02-12","v":66.3},{"d":"2026-02-13","v":68.2},{"d":"2026-02-14","v":69.7},{"d":"2026-02-15","v":68.8},
      {"d":"2026-02-16","v":69},{"d":"2026-02-17","v":67.4},{"d":"2026-02-18","v":66.6},{"d":"2026-02-19","v":67},{"d":"2026-02-20","v":67.9},{"d":"2026-02-21","v":68.1},{"d":"2026-02-22","v":67.7},{"d":"2026-02-23","v":64.8},{"d":"2026-02-24","v":64.3},{"d":"2026-02-25","v":68},
      {"d":"2026-02-26","v":67.6},{"d":"2026-02-27","v":66.1},{"d":"2026-02-28","v":67.1},{"d":"2026-03-01","v":66},{"d":"2026-03-02","v":68.9},{"d":"2026-03-03","v":68.4},{"d":"2026-03-04","v":73.5},{"d":"2026-03-05","v":68.3},{"d":"2026-03-06","v":67.8},{"d":"2026-03-07","v":66.3},
      {"d":"2026-03-08","v":70},{"d":"2026-03-09","v":70},{"d":"2026-03-10","v":70.6},{"d":"2026-03-11","v":70.8},{"d":"2026-03-12","v":71},{"d":"2026-03-13","v":71.6},{"d":"2026-03-14","v":72.7},{"d":"2026-03-15","v":74.8},{"d":"2026-03-16","v":74.6},{"d":"2026-03-17","v":72.9},
      {"d":"2026-03-18","v":70.2},{"d":"2026-03-19","v":70},{"d":"2026-03-20","v":69.8},{"d":"2026-03-21","v":68.9},{"d":"2026-03-22","v":68},{"d":"2026-03-23","v":70.8},{"d":"2026-03-24","v":70.8},{"d":"2026-03-25","v":68.9},{"d":"2026-03-26","v":67.8},{"d":"2026-03-27","v":66.4},
      {"d":"2026-03-28","v":66.4},{"d":"2026-03-29","v":66},{"d":"2026-03-30","v":66.5},{"d":"2026-03-31","v":68.2},{"d":"2026-04-01","v":68.2},{"d":"2026-04-02","v":67},{"d":"2026-04-03","v":67},{"d":"2026-04-04","v":67.7},{"d":"2026-04-05","v":69},{"d":"2026-04-06","v":68.9},
      {"d":"2026-04-07","v":72},{"d":"2026-04-08","v":71.6},{"d":"2026-04-09","v":72.2},{"d":"2026-04-10","v":73.3},{"d":"2026-04-11","v":71},{"d":"2026-04-12","v":74.6},{"d":"2026-04-13","v":74.6},{"d":"2026-04-14","v":75},{"d":"2026-04-15","v":75.4},{"d":"2026-04-16","v":76.1},
      {"d":"2026-04-17","v":77.5},{"d":"2026-04-18","v":77.8},{"d":"2026-04-19","v":76.2},{"d":"2026-04-20","v":76.3},{"d":"2026-04-21","v":78.1},{"d":"2026-04-22","v":78.8},{"d":"2026-04-23","v":78.4},{"d":"2026-04-24","v":78.4},{"d":"2026-04-25","v":78},{"d":"2026-04-26","v":79.2},
      {"d":"2026-04-27","v":78.4},{"d":"2026-04-28","v":76.6},{"d":"2026-04-29","v":76.6},{"d":"2026-04-30","v":77.6},{"d":"2026-05-01","v":78.9},{"d":"2026-05-02","v":79.1},{"d":"2026-05-03","v":79.1},{"d":"2026-05-04","v":79.9},{"d":"2026-05-05","v":80.9},{"d":"2026-05-06","v":81.7},
      {"d":"2026-05-07","v":80.4},{"d":"2026-05-08","v":80.2},{"d":"2026-05-09","v":81},{"d":"2026-05-10","v":82.4},{"d":"2026-05-11","v":82},{"d":"2026-05-12","v":80.8},{"d":"2026-05-13","v":79.4},{"d":"2026-05-14","v":80.9},{"d":"2026-05-15","v":78.8},{"d":"2026-05-16","v":78},
      {"d":"2026-05-17","v":77.2},{"d":"2026-05-18","v":76.9},{"d":"2026-05-19","v":76.7},{"d":"2026-05-20","v":77.6},{"d":"2026-05-21","v":75.9},{"d":"2026-05-22","v":76.3},{"d":"2026-05-23","v":77},{"d":"2026-05-24","v":77.3},{"d":"2026-05-25","v":75.9},{"d":"2026-05-26","v":75.5},
      {"d":"2026-05-27","v":74.1},{"d":"2026-05-28","v":73.5},{"d":"2026-05-29","v":73.9},{"d":"2026-05-30","v":73.7},{"d":"2026-05-31","v":73.3},{"d":"2026-06-01","v":70.9},{"d":"2026-06-02","v":66.4},{"d":"2026-06-03","v":64.1},{"d":"2026-06-04","v":63.9},{"d":"2026-06-05","v":61.2},
      {"d":"2026-06-06","v":61},{"d":"2026-06-07","v":63.3},{"d":"2026-06-08","v":63.1},{"d":"2026-06-09","v":61.9},{"d":"2026-06-10","v":61.8},{"d":"2026-06-11","v":63.6},{"d":"2026-06-12","v":63.6},{"d":"2026-06-13","v":64.4},{"d":"2026-06-14","v":65.8},{"d":"2026-06-15","v":66.3},
      {"d":"2026-06-16","v":65.6},{"d":"2026-06-17","v":64.4},{"d":"2026-06-18","v":62.9},{"d":"2026-06-19","v":63.6},{"d":"2026-06-20","v":64.3},{"d":"2026-06-21","v":63.5},{"d":"2026-06-22","v":63.9},{"d":"2026-06-23","v":62.6},{"d":"2026-06-24","v":61.2},{"d":"2026-06-25","v":59.9},
      {"d":"2026-06-26","v":60},{"d":"2026-06-27","v":59.9},{"d":"2026-06-28","v":59.6},{"d":"2026-06-29","v":60.3},{"d":"2026-06-30","v":58.7},{"d":"2026-07-01","v":60.5},{"d":"2026-07-02","v":61.6},{"d":"2026-07-03","v":62.6},{"d":"2026-07-04","v":63.1},{"d":"2026-07-05","v":63.5},
      {"d":"2026-07-06","v":63.9}
    ]
  },
  "encoding": {
    "x": {
      "field": "d",
      "type": "temporal",
      "scale": {
        "type": "utc",
        "domain": [
          {"year": 2025, "month": 6, "date": 1, "utc": true},
          {"year": 2026, "month": 7, "date": 6, "utc": true}
        ]
      },
      "axis": {
        "title": null,
        "format": "%b %Y",
        "tickCount": {"interval": "month", "step": 2},
        "grid": false,
        "ticks": false,
        "domain": true,
        "domainColor": "#9ca3af",
        "domainWidth": 2,
        "labelFontSize": 22,
        "labelColor": "#6b7280",
        "labelPadding": 8,
        "labelFlush": false
      }
    }
  },
  "layer": [
    {
      "data": {"name": "p"},
      "mark": {"type": "line", "color": "#c8c8c8", "strokeWidth": 2, "strokeJoin": "round"},
      "encoding": {
        "y": {
          "field": "v",
          "type": "quantitative",
          "scale": {"type": "log", "domain": [56.9, 128.2]},
          "axis": {
            "orient": "right",
            "values": [60, 80, 100, 120],
            "labelExpr": "'$' + datum.value + 'K'",
            "grid": true,
            "gridColor": "#e5e7eb",
            "gridWidth": 1.5,
            "ticks": false,
            "domain": false,
            "labelFontSize": 22,
            "labelColor": "#6b7280",
            "labelPadding": 4,
            "labelFlush": false,
            "title": "BTC price (USD, log)",
            "titleAngle": 270,
            "titleBaseline": "top",
            "titleFontSize": 21,
            "titleFontWeight": "normal",
            "titleColor": "#a1a7b0",
            "titlePadding": 27
          }
        }
      }
    },
    {
      "encoding": {
        "y": {
          "field": "v",
          "type": "quantitative",
          "scale": {"domain": [0, 35]},
          "axis": {
            "orient": "left",
            "values": [0, 5, 10, 15, 20, 25, 30, 35],
            "labelExpr": "datum.value + '%'",
            "grid": true,
            "gridColor": {"condition": {"test": "datum.value == 35", "value": "transparent"}, "value": "#e5e7eb"},
            "gridWidth": 1.5,
            "ticks": false,
            "domain": false,
            "labelFontSize": 22,
            "labelColor": "#6b7280",
            "labelPadding": 4,
            "labelFlush": false,
            "title": "25-delta skew (% of ATM IV)",
            "titleFontSize": 25,
            "titleFontWeight": "normal",
            "titleColor": "#6b7280",
            "titlePadding": 34
          }
        }
      },
      "layer": [
        {
          "data": {"values": [{"d": "2025-12-31", "v": 17.5, "t": "glassnode"}]},
          "mark": {"type": "text", "font": "Lato", "fontSize": 132, "color": "#b8b8b8", "opacity": 0.38, "align": "center", "baseline": "middle"},
          "encoding": {"text": {"field": "t"}}
        },
        {
          "data": {"name": "w"},
          "mark": {"type": "line", "color": "#1f6feb", "strokeWidth": 3, "strokeJoin": "round", "clip": true}
        },
        {
          "data": {"name": "m"},
          "mark": {"type": "line", "color": "#f7931a", "strokeWidth": 5, "strokeJoin": "round", "clip": true}
        },
        {
          "data": {"name": "w"},
          "transform": [
            {"window": [{"op": "row_number", "as": "rk"}], "sort": [{"field": "d", "order": "descending"}]},
            {"filter": "datum.rk == 1"},
            {"calculate": "'1W ' + format(datum.v, '.0f') + '%'", "as": "lbl"}
          ],
          "layer": [
            {"mark": {"type": "circle", "size": 150, "color": "#1f6feb", "opacity": 1}},
            {
              "mark": {"type": "text", "align": "left", "baseline": "middle", "dx": 120, "fontSize": 22, "color": "#1f6feb"},
              "encoding": {"text": {"field": "lbl"}}
            }
          ]
        },
        {
          "data": {"name": "m"},
          "transform": [
            {"window": [{"op": "row_number", "as": "rk"}], "sort": [{"field": "d", "order": "descending"}]},
            {"filter": "datum.rk == 1"},
            {"calculate": "'1M ' + format(datum.v, '.0f') + '%'", "as": "lbl"}
          ],
          "layer": [
            {"mark": {"type": "circle", "size": 150, "color": "#f7931a", "opacity": 1}},
            {
              "mark": {"type": "text", "align": "left", "baseline": "middle", "dx": 120, "fontSize": 22, "color": "#f7931a"},
              "encoding": {"text": {"field": "lbl"}}
            }
          ]
        },
        {
          "data": {
            "values": [
              {"d": "2026-01-26T05:00:00Z", "v": 30.5, "d2": "2026-02-05T00:00:00Z", "v2": 28.4},
              {"d": "2026-06-21T00:00:00Z", "v": 26.95, "d2": "2026-06-24T05:00:00Z", "v2": 23.8}
            ],
            "format": {"parse": {"d": "date", "d2": "date"}}
          },
          "mark": {"type": "rule", "color": "#4b5563", "strokeWidth": 2},
          "encoding": {
            "x2": {"field": "d2"},
            "y2": {"field": "v2"}
          }
        },
        {
          "data": {
            "values": [
              {"d": "2026-01-19T17:00:00Z", "v": 32.1, "t": "Feb selloff"},
              {"d": "2026-06-19T05:00:00Z", "v": 28.53, "t": "Late-June retest of the lows"}
            ],
            "format": {"parse": {"d": "date"}}
          },
          "mark": {"type": "text", "align": "center", "baseline": "alphabetic", "fontSize": 22, "fontWeight": "bold", "color": "#f7931a"},
          "encoding": {"text": {"field": "t"}}
        },
        {
          "data": {
            "values": [
              {"d": "2026-01-19T17:00:00Z", "v": 30.86, "t": "1M skew hit 28%"},
              {"d": "2026-06-19T05:00:00Z", "v": 27.34, "t": "1M 24%, highest since Feb"}
            ],
            "format": {"parse": {"d": "date"}}
          },
          "mark": {"type": "text", "align": "center", "baseline": "alphabetic", "fontSize": 22, "color": "#f7931a"},
          "encoding": {"text": {"field": "t"}}
        },
        {
          "data": {"values": [{"d": "2025-06-01", "v": 35, "t": "25-delta skew, 1-week and 1-month tenors, with BTC price for context."}]},
          "mark": {"type": "text", "align": "left", "baseline": "middle", "dx": 4, "dy": -26, "fontSize": 23, "color": "#6b7280"},
          "encoding": {"text": {"field": "t"}}
        },
        {
          "data": {"values": [{"d": "2025-06-01", "v": 0, "t": "Source: Glassnode · Data as of 6 Jul 2026 · © 2026 Glassnode"}]},
          "mark": {"type": "text", "align": "left", "baseline": "middle", "dx": -14, "dy": 88, "fontSize": 19, "color": "#6b7280"},
          "encoding": {"text": {"field": "t"}}
        },
        {
          "data": {"values": [{"d": "2026-07-06", "v": 0, "t": "glassnode"}]},
          "mark": {"type": "text", "font": "Lato", "align": "right", "baseline": "middle", "dx": 52, "dy": 87, "fontSize": 50, "color": "#2b2b2b"},
          "encoding": {"text": {"field": "t"}}
        }
      ]
    }
  ],
  "resolve": {"scale": {"y": "independent"}}
}
